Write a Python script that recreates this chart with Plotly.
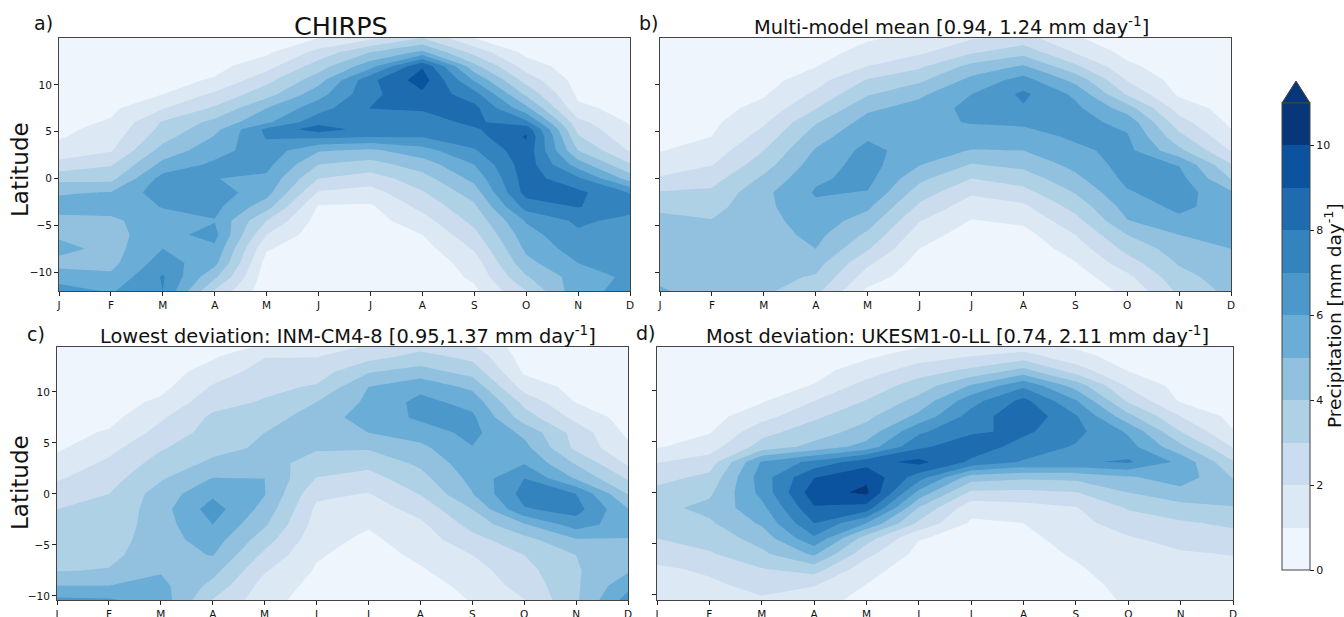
import numpy as np
import plotly.graph_objects as go

months = ["J", "F", "M", "A", "M", "J", "J", "A", "S", "O", "N", "D"]
month_pos = list(range(12))
lat = [-12, -10.5, -9, -7.5, -6, -4.5, -3, -1.5, 0, 1.5, 3, 4.5, 6, 7.5, 9, 10.5, 12, 13.5, 15]
lat_chirps = [-12, -10.5, -9, -7.5, -6, -4.5, -3, -1.5, 0, 1.5, 3, 4.5, 5.25, 6, 7.5, 9, 10.5, 12, 13.5, 15]
levels = [0, 11, 1]
cbar_ticks = [0, 2, 4, 6, 8, 10]
blues = ["#eef5fc", "#dce9f5", "#cadcee", "#afd1e6", "#92c1df", "#6aadd6",
         "#4d98cb", "#3383bf", "#1e6bb0", "#0b539e", "#073778"]

# one row per month, values from south to north
chirps = [
    [6.4, 5.6, 4.6, 5.4, 4.8, 4.7, 5.4, 4.9, 3.7, 2.3, 1.4, .9, .8, .7, .6, .5, .45, .4, .35, .3],
    [5.9, 5.2, 4.7, 4.6, 4.6, 4.8, 5.4, 5.05, 3.7, 2.9, 1.9, 1.5, 1.3, 1.1, .8, .65, .55, .45, .4, .35],
    [7.0, 7.1, 6.5, 6.0, 5.7, 5.6, 6.05, 6.6, 6.4, 5.3, 4.4, 3.6, 3.3, 3.1, 1.95, 1, .7, .55, .45, .35],
    [2.9, 4.2, 5.3, 5.8, 6.3, 5.95, 6.3, 6.5, 6.02, 6.2, 5.6, 5.05, 4.7, 4.3, 3.15, 2.2, 1.1, .7, .5, .4],
    [.3, .4, .6, 1.1, 2, 3, 4.4, 5.4, 5.8, 6.3, 6.6, 7.1, 7.25, 5.8, 5.0, 3.6, 2.7, 1.6, .8, .5],
    [.2, .2, .25, .3, .4, .6, .9, 1.9, 3, 4, 5.1, 7.3, 8.5, 7.7, 6.6, 5.6, 4.6, 3.5, 2.3, 1.0],
    [.2, .2, .25, .3, .4, .6, .85, 1.6, 2.5, 3.6, 4.8, 7.1, 7.6, 7.4, 8.02, 7.75, 7.75, 5.6, 4, 1.7],
    [.15, .2, .3, .6, 1, 1.6, 2.3, 2.9, 3.6, 4.5, 5.6, 7.1, 7.3, 7.6, 8.1, 8.8, 9.5, 8.9, 5.2, 3],
    [.8, 1.2, 1.5, 2.1, 2.7, 3.3, 3.8, 4.5, 5.3, 6, 6.9, 7.6, 7.9, 8.2, 8.3, 7.4, 5.9, 4.3, 2.6, 1],
    [3, 3.9, 4.7, 5.2, 5.6, 6.1, 7.4, 8.4, 8.5, 8.6, 8.7, 9.1, 8.7, 7.3, 5.3, 3.8, 2.6, 1.5, .7, .4],
    [5.7, 5.5, 6, 6.5, 6.8, 7.2, 8.05, 8.25, 7.2, 5.5, 4, 3.1, 2.7, 2.3, 1.2, .8, .6, .45, .35, .3],
    [6.3, 6.2, 6.1, 6.1, 6.2, 6.7, 7.4, 6.95, 4.55, 3.1, 1.9, 1.3, 1.1, .9, .7, .55, .45, .4, .35, .3],
]
multi_model = [
    [5.1, 4.8, 4.6, 4.5, 4.4, 4.2, 3.85, 3.1, 2.1, 1.5, .95, .75, .6, .5, .45, .4, .35, .3, .3],
    [4.6, 4.5, 4.4, 4.3, 4.2, 4.05, 3.65, 3.2, 2.6, 1.95, 1.45, 1, .8, .65, .55, .45, .4, .35, .3],
    [4.2, 4.3, 4.35, 4.4, 4.5, 4.6, 4.75, 4.75, 4.2, 3.55, 3, 2.4, 1.85, 1.3, .9, .6, .45, .35, .3],
    [3.3, 3.9, 4.4, 5, 5.3, 5.6, 5.8, 6.1, 5.85, 5.5, 5.1, 4.55, 3.9, 2.95, 2.2, 1.6, .95, .65, .45],
    [.8, 1.5, 2.2, 3.1, 3.8, 4.5, 5.2, 5.95, 6.3, 6.4, 6.3, 5.85, 5.4, 4.8, 3.9, 3.1, 2, 1.3, .9],
    [.3, .4, .6, 1, 1.45, 2.05, 2.8, 3.5, 4.25, 5.05, 5.5, 5.8, 5.8, 5.4, 4.8, 3.8, 2.8, 1.8, 1.2],
    [.2, .25, .3, .4, .55, .95, 1.45, 2.15, 3, 3.95, 4.95, 5.65, 6.05, 6.3, 6, 5.3, 4.3, 2.85, 1.9],
    [.15, .2, .25, .35, .65, 1.2, 1.8, 2.65, 3.45, 4.3, 5, 5.65, 6.15, 6.9, 7.2, 6.4, 5.1, 3.6, 2.4],
    [.4, .55, .95, 1.45, 2, 2.65, 3.35, 4.05, 4.75, 5.3, 5.8, 6.15, 6.35, 6.25, 5.8, 4.7, 3.2, 1.9, 1.1],
    [1.2, 1.75, 2.55, 3.3, 4, 4.95, 5.4, 5.9, 6.25, 6.4, 6.3, 6.1, 5.7, 4.5, 2.9, 1.95, 1.2, .7, .45],
    [3.2, 3.65, 4.1, 4.5, 5, 5.75, 6.25, 6.5, 6.35, 5.95, 4.25, 3.3, 2.4, 1.55, .85, .6, .45, .35, .3],
    [4.3, 4.5, 4.75, 5, 5.3, 5.5, 5.5, 5.15, 3.95, 3.05, 1.95, 1.2, .8, .6, .5, .4, .35, .3, .3],
]
inm_cm4_8 = [
    [6.8, 6.3, 5, 3.95, 3.7, 3.45, 3.2, 3, 2.5, 1.9, 1.35, .85, .7, .55, .45, .4, .35, .3, .3],
    [6.6, 6.2, 5, 4.05, 3.75, 3.55, 3.35, 3.15, 3, 2.6, 2.2, 1.7, 1.1, .7, .55, .45, .4, .35, .3],
    [6, 5.6, 5.3, 4.9, 4.6, 4.55, 4.55, 4.6, 4.45, 3.9, 3.4, 2.9, 2.35, 1.85, 1.2, .7, .5, .4, .35],
    [2.4, 2.9, 3.7, 4.35, 5.05, 5.5, 6, 6.45, 5.8, 5.05, 4.2, 3.7, 3.4, 3.2, 2.6, 2.1, 1.45, .85, .5],
    [1, 1.4, 1.6, 2.1, 2.75, 3.45, 4.15, 4.65, 5.05, 5, 4.4, 4.15, 4, 3.4, 3.1, 2.75, 2.4, 1.95, .8],
    [.3, .45, .7, .9, 1.1, 1.35, 1.6, 1.8, 2.2, 2.95, 3.6, 4.1, 4.4, 4.65, 4, 3.1, 2.5, 1.95, 1.4],
    [.2, .25, .35, .45, .6, .8, 1.1, 1.5, 1.95, 2.6, 3.3, 4.1, 5, 5.3, 5.2, 5, 3.9, 2.6, 1.8],
    [.2, .3, .5, .9, 1.2, 1.5, 1.8, 2.35, 3.05, 3.65, 4.2, 4.75, 5.45, 6.2, 6.3, 5.7, 4.4, 3.3, 2.3],
    [.7, 1.05, 1.35, 1.6, 2, 2.65, 3.35, 4, 4.95, 5.3, 5.6, 5.95, 6.3, 6.2, 5.65, 4.75, 3.6, 2.7, 1.8],
    [1.7, 1.95, 2.35, 2.65, 3, 3.65, 4.9, 6.9, 7.4, 7, 5.95, 5.35, 4.75, 3.5, 2.7, 1.55, .85, .55, .4],
    [3.9, 3.85, 3.85, 3.9, 4, 4.9, 6.5, 7.4, 7, 4.9, 3.9, 2.75, 2.6, 1.7, .95, .7, .5, .4, .35],
    [7.2, 6.5, 5.7, 4.85, 4.6, 4.95, 5.4, 5.05, 3.95, 2.9, 1.85, 1.2, .8, .6, .5, .4, .35, .3, .3],
]
ukesm1_0_ll = [
    [1.3, 1.5, 1.7, 1.85, 2.4, 3, 3.4, 3.7, 3.3, 2.65, 1.95, .9, .7, .55, .5, .4, .35, .3, .3],
    [1.6, 1.7, 1.85, 2.15, 2.9, 3.4, 3.85, 4.3, 3.8, 3.25, 2.45, 1.55, .9, .65, .5, .45, .4, .35, .3],
    [1.6, 1.9, 2.3, 2.95, 3.8, 4.4, 5.15, 5.7, 6.3, 6.5, 6.1, 3.4, 2.65, 1.6, .9, .6, .45, .35, .3],
    [1, 1.4, 2.1, 3.5, 5.2, 6.8, 8, 8.9, 9.6, 8.95, 7.3, 4.3, 3.5, 2.8, 2, 1.05, .7, .5, .4],
    [.5, .7, 1, 1.35, 2.3, 3.45, 6, 8.6, 10.2, 9.8, 8.6, 5.4, 4.4, 3.75, 3.05, 2.4, 1.45, .8, .5],
    [.2, .25, .35, .5, .7, 1.05, 2.8, 3.95, 5.7, 7.5, 9.3, 7.8, 6.8, 5.25, 4.35, 3.45, 2.55, 1.4, .6],
    [.15, .2, .3, .4, .55, .7, .85, 1.35, 2.8, 4.5, 7.8, 8.6, 7.85, 7.4, 6.6, 5.1, 3.2, 1.9, .8],
    [.1, .15, .2, .35, .5, .7, 1, 1.6, 2.75, 4.2, 6.9, 7.6, 8.2, 8.8, 8.3, 6.8, 4.3, 2.35, .8],
    [.2, .3, .55, .85, 1.15, 1.45, 1.7, 1.95, 2.95, 4.3, 6.85, 6.9, 7.3, 7.1, 6.1, 4.6, 2.5, 1.25, .6],
    [1, 1.2, 1.4, 1.6, 1.75, 1.9, 2.45, 3.1, 4, 4.85, 7.15, 6.4, 5.85, 4.3, 2.85, 1.85, .95, .6, .4],
    [1.1, 1.3, 1.45, 1.65, 1.9, 2.35, 2.85, 3.65, 4.6, 5.6, 5.75, 4.25, 3, 2, .9, .65, .5, .4, .3],
    [1.2, 1.3, 1.45, 1.7, 2.05, 2.6, 3.2, 3.95, 4.4, 3.95, 3.1, 1.95, 1.05, .7, .55, .45, .4, .35, .3],
]
panel_values = [chirps, multi_model, inm_cm4_8, ukesm1_0_ll]
panel_lats = [lat_chirps, lat, lat, lat]
titles = ["CHIRPS", "Multi-model mean [0.94, 1.24 mm day<sup>-1</sup>]",
          "Lowest deviation: INM-CM4-8 [0.95,1.37 mm day<sup>-1</sup>]",
          "Most deviation: UKESM1-0-LL [0.74, 2.11 mm day<sup>-1</sup>]"]
panel_tags = ["a)", "b)", "c)", "d)"]
yticks = [-10, -5, 0, 5, 10]

W, H = 1344, 617
FONT = "DejaVu Sans"
# pixel boxes of the four panels: left, right, top, bottom
boxes = [(59, 630, 38, 291), (660, 1231, 38, 291), (57, 628, 347, 600), (657, 1233, 347, 600)]
ranges = [(-12, 15), (-12, 15), (-10.4, 14.4), (-10.55, 14.3)]
title_x = [341, 951, 348, 957]
title_y = [26, 26, 335, 335]
title_size = [25.5, 19.4, 19.4, 19.4]
tag_x = [43, 648, 36, 645]
tag_y = [23, 23, 334, 333]
ylabel_y = [170, 483]

n = len(blues)
colorscale = []
for i, c in enumerate(blues):
    colorscale += [[(i + 0.5) / (n + 1), c], [(i + 1.5) / (n + 1), c]]
colorscale = [[0, blues[0]]] + colorscale + [[1, blues[-1]]]

fig = go.Figure()
annotations = []
for k, vals in enumerate(panel_values):
    s = "" if k == 0 else str(k + 1)
    l, r, t, b = boxes[k]
    fig.add_trace(go.Contour(
        x=month_pos, y=panel_lats[k], z=np.array(vals).T.tolist(),
        xaxis="x" + s, yaxis="y" + s,
        zmin=levels[0], zmax=levels[1], autocontour=False,
        contours=dict(start=levels[0], end=levels[1], size=levels[2], coloring="fill", showlines=False),
        line=dict(width=0, smoothing=0),
        colorscale=colorscale, hoverinfo="skip",
        showscale=(k == 0),
        colorbar=dict(
            x=1282 / W, xanchor="left", xpad=0, y=(H - 570) / H, yanchor="bottom", ypad=0,
            lenmode="pixels", len=467, thicknessmode="pixels", thickness=28,
            tickmode="array", tickvals=cbar_ticks, ticks="outside", ticklen=4, tickwidth=1,
            tickcolor="#222", tickfont=dict(family=FONT, size=11, color="#111"),
            outlinecolor="#444", outlinewidth=1, bgcolor="rgba(0,0,0,0)", borderwidth=0),
    ))
    axis_common = dict(showgrid=False, zeroline=False, showline=True, mirror=True, linecolor="#444",
                       linewidth=1, ticks="outside", ticklen=4, tickwidth=1, tickcolor="#222",
                       tickfont=dict(family=FONT, size=10.5, color="#111"))
    fig.update_layout({
        "xaxis" + s: dict(domain=[l / W, r / W], range=[0, 11], tickmode="array", tickvals=month_pos,
                          ticktext=months, anchor="y" + s, **axis_common),
        "yaxis" + s: dict(domain=[(H - b) / H, (H - t) / H], range=list(ranges[k]), tickmode="array",
                          tickvals=yticks, showticklabels=(k % 2 == 0), anchor="x" + s, **axis_common),
    })
    annotations.append(dict(text=titles[k], x=title_x[k] / W, y=1 - title_y[k] / H, xref="paper", yref="paper",
                            showarrow=False, xanchor="center", yanchor="middle",
                            font=dict(family=FONT, size=title_size[k], color="#111")))
    annotations.append(dict(text=panel_tags[k], x=tag_x[k] / W, y=1 - tag_y[k] / H, xref="paper", yref="paper",
                            showarrow=False, xanchor="center", yanchor="middle",
                            font=dict(family=FONT, size=19, color="#111")))

for yc in ylabel_y:
    annotations.append(dict(text="Latitude", x=20 / W, y=1 - yc / H,
                            xref="paper", yref="paper", showarrow=False, textangle=-90,
                            xanchor="center", yanchor="middle", font=dict(family=FONT, size=23, color="#111")))
annotations.append(dict(text="Precipitation [mm day<sup>-1</sup>]", x=1333 / W, y=1 - 316 / H,
                        xref="paper", yref="paper", showarrow=False, textangle=-90,
                        xanchor="center", yanchor="middle", font=dict(family=FONT, size=18.5, color="#111")))

fig.update_layout(
    width=W, height=H, autosize=False, margin=dict(l=0, r=0, t=0, b=0, autoexpand=False),
    paper_bgcolor="white", plot_bgcolor="white", showlegend=False, annotations=annotations,
    shapes=[dict(type="path", xref="paper", yref="paper", layer="above",
                 path=f"M {1282/W} {1-103/H} L {1296/W} {1-81/H} L {1310/W} {1-103/H} Z",
                 fillcolor=blues[-1], line=dict(color="#444", width=1))],
)
fig.write_html("out.html", config={"displayModeBar": False},
               post_script="document.body.style.margin='0';document.body.style.overflow='hidden';")
